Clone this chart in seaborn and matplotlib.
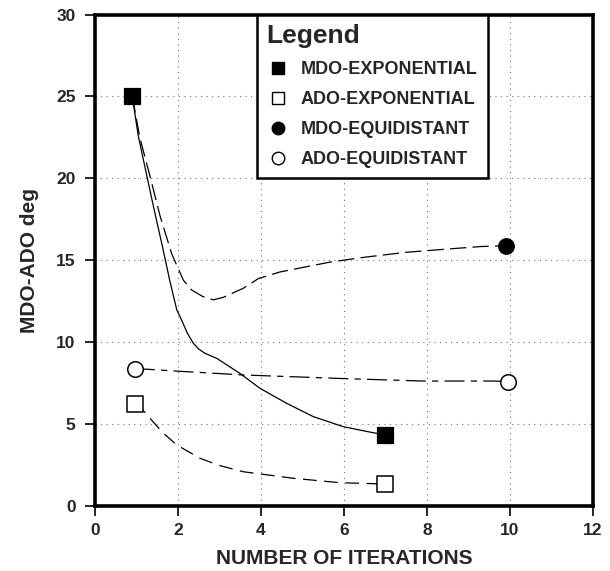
import pandas as pd
import matplotlib.pyplot as plt
import seaborn as sns
from matplotlib.lines import Line2D

# values (markers sit at first/last points)
mdo_exp_x = [0.9, 1.04, 1.17, 1.4, 1.63, 1.8, 1.97, 2.1, 2.22, 2.37, 2.5, 2.65, 2.93, 3.49, 3.98, 4.62, 5.26, 5.98, 6.5, 6.99]
mdo_exp_y = [25.0, 22.65, 21.1, 18.4, 15.8, 13.8, 12.0, 11.3, 10.6, 9.95, 9.6, 9.34, 9.04, 8.12, 7.2, 6.29, 5.48, 4.87, 4.6, 4.36]

mdo_eq_x = [0.9, 1.08, 1.33, 1.57, 1.85, 2.13, 2.33, 2.6, 2.85, 3.09, 3.57, 3.94, 4.46, 5.26, 5.66, 6.5, 7.5, 8.5, 9.3, 9.9]
mdo_eq_y = [25.0, 22.5, 20.1, 17.7, 15.4, 13.8, 13.2, 12.8, 12.6, 12.75, 13.3, 13.9, 14.3, 14.7, 14.9, 15.2, 15.5, 15.7, 15.85, 15.9]

ado_exp_x = [0.96, 1.08, 1.61, 1.97, 2.53, 3.0, 3.57, 4.78, 5.9, 6.99]
ado_exp_y = [6.23, 6.09, 4.56, 3.75, 2.94, 2.5, 2.12, 1.72, 1.45, 1.37]

ado_eq_x = [0.96, 1.24, 2.0, 3.57, 5.98, 7.9, 9.6, 9.96]
ado_eq_y = [8.4, 8.37, 8.25, 8.02, 7.8, 7.65, 7.65, 7.62]

labels = ["MDO-EXPONENTIAL", "ADO-EXPONENTIAL", "MDO-EQUIDISTANT", "ADO-EQUIDISTANT"]
x_ticks = [0, 2, 4, 6, 8, 10, 12]
y_ticks = [0, 5, 10, 15, 20, 25, 30]
x_tick_labels = ["0", "2", "4", "6", "8", "10", "12"]
y_tick_labels = ["0", "5", "10", "15", "20", "25", "30"]

sns.set_style("ticks")
plt.rcParams["font.family"] = ["Liberation Sans", "DejaVu Sans"]
plt.rcParams["font.weight"] = "bold"

fig = plt.figure(figsize=(6.1, 5.71), dpi=100)
ax = fig.add_axes([0.1557, 0.113, 0.8163, 0.8616])

# curves
sns.lineplot(x=mdo_exp_x, y=mdo_exp_y, sort=False, color="black", linewidth=0.9, ax=ax)
sns.lineplot(x=mdo_eq_x, y=mdo_eq_y, sort=False, color="black", linewidth=0.9,
             linestyle=(0, (13, 5)), ax=ax)
sns.lineplot(x=ado_exp_x, y=ado_exp_y, sort=False, color="black", linewidth=0.9,
             linestyle=(0, (11, 6)), ax=ax)
sns.lineplot(x=ado_eq_x, y=ado_eq_y, sort=False, color="black", linewidth=0.9,
             linestyle=(0, (16, 5, 5, 5)), ax=ax)

# end markers
ms = 125
sns.scatterplot(x=[mdo_exp_x[0], mdo_exp_x[-1]], y=[mdo_exp_y[0], mdo_exp_y[-1]], marker="s",
                s=ms, color="black", edgecolor="black", zorder=5, ax=ax)
sns.scatterplot(x=[ado_exp_x[0], ado_exp_x[-1]], y=[ado_exp_y[0], ado_exp_y[-1]], marker="s",
                s=ms, color="white", edgecolor="black", linewidth=1.1, zorder=5, ax=ax)
sns.scatterplot(x=[mdo_eq_x[-1]], y=[mdo_eq_y[-1]], marker="o",
                s=ms, color="black", edgecolor="black", zorder=5, ax=ax)
sns.scatterplot(x=[ado_eq_x[0], ado_eq_x[-1]], y=[ado_eq_y[0], ado_eq_y[-1]], marker="o",
                s=ms, color="white", edgecolor="black", linewidth=1.1, zorder=5, ax=ax)

ax.set_xlim(0, 12)
ax.set_ylim(0, 30)
ax.set_xticks(x_ticks, labels=x_tick_labels, fontweight="bold", fontsize=12.5)
ax.set_yticks(y_ticks, labels=y_tick_labels, fontweight="bold", fontsize=12.5)
ax.tick_params(axis="x", direction="out", length=7, width=1.2, pad=5, color="black")
ax.tick_params(axis="y", direction="out", length=7, width=1.2, pad=7, color="black")
ax.grid(True, color="0.45", linewidth=0.8, linestyle=(0, (1, 4)))
for side in ["left", "right", "top", "bottom"]:
    ax.spines[side].set_visible(True)
    ax.spines[side].set_linewidth(2.6)
    ax.spines[side].set_color("black")

ax.set_xlabel("NUMBER OF ITERATIONS", fontsize=15, fontweight="bold", labelpad=8)
ax.set_ylabel("MDO-ADO deg", fontsize=15, fontweight="bold", labelpad=12)

handles = [
    Line2D([], [], marker="s", linestyle="none", markersize=9, markerfacecolor="black", markeredgecolor="black"),
    Line2D([], [], marker="s", linestyle="none", markersize=9, markerfacecolor="white", markeredgecolor="black"),
    Line2D([], [], marker="o", linestyle="none", markersize=9, markerfacecolor="black", markeredgecolor="black"),
    Line2D([], [], marker="o", linestyle="none", markersize=9, markerfacecolor="white", markeredgecolor="black"),
]
leg = ax.legend(handles, labels, title="Legend", loc="upper left", bbox_to_anchor=(0.325, 1.0),
                borderaxespad=0, frameon=True, fancybox=False, edgecolor="black", framealpha=1,
                prop={"weight": "bold", "size": 13}, title_fontproperties={"weight": "bold", "size": 19},
                alignment="left", handletextpad=0.7, labelspacing=0.72, borderpad=0.55, handlelength=1.2)
leg.get_frame().set_linewidth(1.8)

plt.savefig("out.png", dpi=100)
